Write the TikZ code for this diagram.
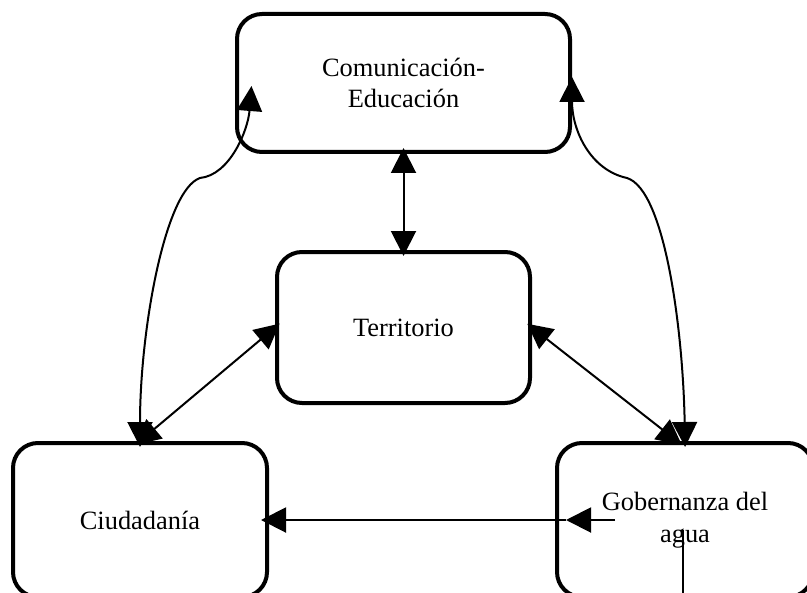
\documentclass[tikz,border=0pt]{standalone}
\usepackage{fontspec}
\setmainfont{Liberation Serif}
\usetikzlibrary{arrows.meta, calc}

\begin{document}
\begin{tikzpicture}[x=0.5pt, y=-0.5pt,
    box/.style={draw, line width=2pt, rounded corners=12.5pt, align=center,
        inner sep=0pt, font=\fontsize{13.2}{15.5}\selectfont},
    link/.style={line width=1pt, shorten <=-3pt, shorten >=-3pt,
        {Triangle[length=12.5pt, width=12.5pt]}-{Triangle[length=12.5pt, width=12.5pt]}},
    onelink/.style={line width=1pt, -{Triangle[length=12.5pt, width=12.5pt]}}]
    \clip (0,0) rectangle (807,593);

    % Boxes
    \node[box, minimum width=166.5pt, minimum height=69pt] (com) at (403.5,83) {Comunicación-\\Educación};
    \node[box, minimum width=126.5pt, minimum height=75.5pt] (ter) at (403.5,327.5) {Territorio};
    \node[box, minimum width=127pt, minimum height=77pt] (ciu) at (140,520) {Ciudadanía};
    \node[box, minimum width=128pt, minimum height=77pt, font=\fontsize{13.2}{16}\selectfont] (gob) at (685,520) {Gobernanza del\\agua};

    % Straight links
    \draw[link] (com.south) -- (ter.north);
    \draw[link] (ter.west) -- (ciu.north);
    \draw[link] (ter.east) -- ($(gob.north)+(-8,0)$);

    % Curved links
    \coordinate (ltip) at ($(com.west)+(16,9)$);
    \draw[link] (ciu.north) .. controls (140,330) and (165,190) .. (200,178)
        .. controls (230,175) and (248,130) .. (ltip);
    \draw[link] (gob.north) .. controls (683,330) and (665,190) .. (627,178)
        .. controls (590,170) and (572,130) .. (com.east);

    % Gobernanza to Ciudadania
    \coordinate (gstart) at (615,520);
    \coordinate (gtip) at ($(gob.west)+(11,0)$);
    \draw[onelink] (gstart) -- (gtip);
    \draw[onelink, shorten >=-4pt] (gtip) -- (ciu.east);

    % Stub line
    \coordinate (vtop) at (683,530);
    \coordinate (vbot) at (683,600);
    \draw[line width=1pt] (vtop) -- (vbot);
\end{tikzpicture}
\end{document}
